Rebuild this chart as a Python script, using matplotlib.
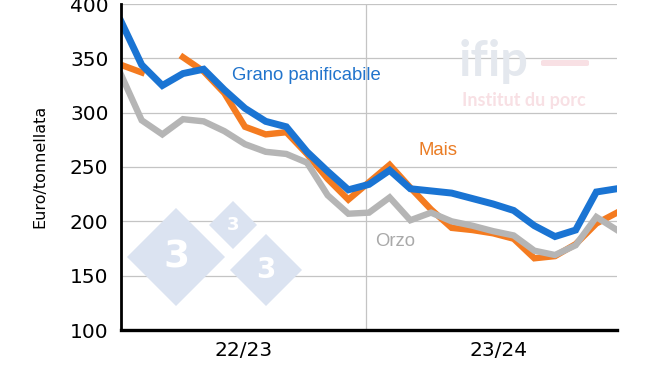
import numpy as np
import matplotlib
matplotlib.use("Agg")
import matplotlib.pyplot as plt
from matplotlib.patches import Polygon, FancyBboxPatch

# prezzi mensili (euro/t), 25 punti: due campagne 22/23 e 23/24
grano = [384, 344, 325, 336, 340, 321, 304, 292, 287, 264, 246, 229, 234,
         247, 230, 228, 226, 221, 216, 210, 196, 186, 192, 227, 230]
mais = [344, 337, np.nan, 351, 338, 318, 287, 280, 282, 262, 239, 220, 236,
        252, 231, 211, 194, 192, 189, 184, 166, 168, 179, 198, 208]
orzo = [335, 293, 280, 294, 292, 283, 271, 264, 262, 254, 224, 207, 208,
        222, 201, 208, 200, 196, 191, 187, 173, 169, 178, 204, 192]
stagioni = ["22/23", "23/24"]
yticks = [100, 150, 200, 250, 300, 350, 400]

W, H = 650, 366
fig = plt.figure(figsize=(W / 100, H / 100), dpi=100)


def fx(x):
    return x / W


def fy(y):
    return 1 - y / H


# watermark loghi (sfondo)
def diamond(cx, cy, r, size):
    pts = [(fx(cx - r), fy(cy)), (fx(cx), fy(cy - r)), (fx(cx + r), fy(cy)), (fx(cx), fy(cy + r))]
    fig.patches.append(Polygon(pts, closed=True, transform=fig.transFigure,
                               facecolor="#dbe3f1", edgecolor="none", zorder=0))
    fig.text(fx(cx), fy(cy), "3", color="white", fontsize=size, fontweight="bold",
             ha="center", va="center", zorder=1, family="DejaVu Sans")


ax = fig.add_axes([fx(121), fy(330), fx(617) - fx(121), fy(4) - fy(330)])
ax.set_facecolor("none")
fig.patch.set_facecolor("white")

diamond(176, 257, 49, 27)
diamond(233, 225, 24, 13)
diamond(266, 270, 36, 20)
fig.text(fx(494), fy(62), "ifip", color="#e4e8ee", fontsize=35, fontweight="bold",
         ha="center", va="center", family="Lato", zorder=0)
fig.patches.append(FancyBboxPatch((fx(541), fy(66)), fx(48), fy(60) - fy(66),
                                  boxstyle="round,pad=0,rounding_size=0.004",
                                  transform=fig.transFigure, facecolor="#f8e0e4",
                                  edgecolor="none", zorder=0))
fig.text(fx(524), fy(100), "Institut du porc", color="#f8e0e4", fontsize=13,
         fontweight="bold", ha="center", va="center", family="Lato", zorder=0)

x = np.arange(len(grano))
ax.plot(x, mais, color="#f47b20", lw=4.6, solid_joinstyle="miter", zorder=3)
ax.plot(x, orzo, color="#b5b5b5", lw=4.6, solid_joinstyle="miter", zorder=4)
ax.plot(x, grano, color="#1a74d3", lw=5.0, solid_joinstyle="miter", zorder=5)

ax.set_xlim(0, len(grano) - 1)
ax.set_ylim(100, 400)
ax.set_yticks(yticks)
ax.set_yticklabels([str(v) for v in yticks], fontsize=14.5, family="DejaVu Sans")
ax.set_xticks([5.95, 18.25])
ax.set_xticklabels(stagioni, fontsize=14.5, family="DejaVu Sans")
ax.tick_params(length=0, pad=8)
ax.tick_params(axis="y", pad=9)

ax.grid(axis="y", color="#c4c4c4", lw=0.9, zorder=1)
ax.axvline(11.85, color="#c4c4c4", lw=0.9, zorder=1)
for s in ["top", "right"]:
    ax.spines[s].set_visible(False)
ax.spines["left"].set_linewidth(2.0)
ax.spines["bottom"].set_linewidth(2.4)
ax.spines["left"].set_zorder(6)
ax.spines["bottom"].set_zorder(6)

fig.text(fx(40), fy(166), "Euro/tonnellata", rotation=90, fontsize=11.5,
         ha="center", va="center", family="DejaVu Sans")

ax.text(5.35, 334, "Grano panificabile", color="#2174cc", fontsize=13.3,
        family="Liberation Sans", va="center", ha="left", zorder=7)
ax.text(14.4, 265, "Mais", color="#ea7c24", fontsize=13.3,
        family="Liberation Sans", va="center", ha="left", zorder=7)
ax.text(12.3, 181, "Orzo", color="#a9a9a9", fontsize=13.3,
        family="Liberation Sans", va="center", ha="left", zorder=7)

fig.savefig("out.png", dpi=100)
